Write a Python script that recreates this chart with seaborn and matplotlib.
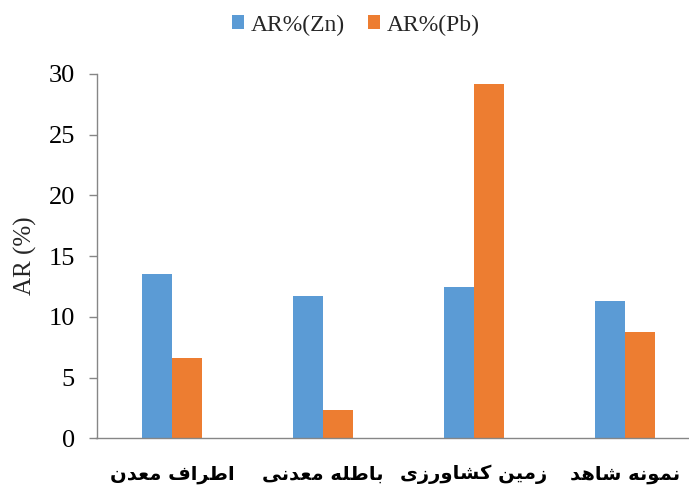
import matplotlib
matplotlib.use("Agg")
import matplotlib.pyplot as plt
import seaborn as sns
import pandas as pd

categories = ["اطراف معدن", "باطله معدنی", "زمین کشاورزی", "نمونه شاهد"]
zn_values = [13.5, 11.7, 12.45, 11.3]
pb_values = [6.6, 2.3, 29.2, 8.75]
series_names = ["AR%(Zn)", "AR%(Pb)"]
y_ticks = [0, 5, 10, 15, 20, 25, 30]
y_label = "AR (%)"

# --- minimal Arabic/Persian shaping (contextual forms + RTL order) ---
FORMS = {  # iso, fin, ini, med
    "ا": ("\uFE8D", "\uFE8E", None, None),
    "ب": ("\uFE8F", "\uFE90", "\uFE91", "\uFE92"),
    "ط": ("\uFEC1", "\uFEC2", "\uFEC3", "\uFEC4"),
    "ر": ("\uFEAD", "\uFEAE", None, None),
    "ز": ("\uFEAF", "\uFEB0", None, None),
    "د": ("\uFEA9", "\uFEAA", None, None),
    "و": ("\uFEED", "\uFEEE", None, None),
    "ف": ("\uFED1", "\uFED2", "\uFED3", "\uFED4"),
    "م": ("\uFEE1", "\uFEE2", "\uFEE3", "\uFEE4"),
    "ع": ("\uFEC9", "\uFECA", "\uFECB", "\uFECC"),
    "ن": ("\uFEE5", "\uFEE6", "\uFEE7", "\uFEE8"),
    "ل": ("\uFEDD", "\uFEDE", "\uFEDF", "\uFEE0"),
    "ه": ("\uFEE9", "\uFEEA", "\uFEEB", "\uFEEC"),
    "ش": ("\uFEB5", "\uFEB6", "\uFEB7", "\uFEB8"),
    "ی": ("\uFBFC", "\uFBFD", "\uFBFE", "\uFBFF"),
    "ک": ("\uFB8E", "\uFB8F", "\uFB90", "\uFB91"),
}


def dual(c):
    return c in FORMS and FORMS[c][2] is not None


def shape(text):
    out = []
    for i, c in enumerate(text):
        if c not in FORMS:
            out.append(c)
            continue
        prev = text[i - 1] if i > 0 else None
        nxt = text[i + 1] if i + 1 < len(text) else None
        cp = prev is not None and dual(prev)
        cn = dual(c) and nxt is not None and nxt in FORMS
        iso, fin, ini, med = FORMS[c]
        if cp and cn:
            out.append(med)
        elif cp:
            out.append(fin)
        elif cn:
            out.append(ini)
        else:
            out.append(iso)
    return "".join(out)[::-1]


shaped = [shape(c) for c in categories]

df = pd.DataFrame({
    "cat": shaped * 2,
    "series": [series_names[0]] * 4 + [series_names[1]] * 4,
    "value": zn_values + pb_values,
})

sns.set_theme(style="white")
plt.rcParams["font.family"] = ["Liberation Serif", "DejaVu Sans"]

fig = plt.figure(figsize=(6.89, 4.91), dpi=100)
ax = fig.add_axes([96.5 / 689, (491 - 438.3) / 491, 604 / 689, (438.3 - 74) / 491])

sns.barplot(data=df, x="cat", y="value", hue="series",
            palette=["#5B9BD5", "#ED7D31"], width=0.4, gap=0,
            saturation=1, linewidth=0, ax=ax, legend=True)

ax.set_xlim(-0.5, 3.5)
ax.set_ylim(0, 30)
ax.set_yticks(y_ticks)
ax.set_yticklabels([str(t) for t in y_ticks], fontsize=19)
ax.set_xlabel("")
ax.set_ylabel(y_label, fontsize=18, labelpad=8)

for s in ["top", "right"]:
    ax.spines[s].set_visible(False)
for s in ["left", "bottom"]:
    ax.spines[s].set_color("#868686")
    ax.spines[s].set_linewidth(1.0)

ax.tick_params(axis="y", which="both", left=True, length=5.5, width=1,
               color="#868686", pad=10, labelcolor="black")
ax.tick_params(axis="x", bottom=False, pad=13)
for lbl in ax.get_xticklabels():
    lbl.set_fontfamily("DejaVu Sans")
    lbl.set_fontweight("bold")
    lbl.set_fontsize(14)
    lbl.set_color("black")

handles, labels = ax.get_legend_handles_labels()
ax.legend_.remove()
fig.legend(handles, labels, loc="center", bbox_to_anchor=(356 / 689, 1 - 25 / 491),
           ncol=2, frameon=False, fontsize=17, handlelength=0.5,
           handleheight=0.55, handletextpad=0.3, columnspacing=0.95)

fig.savefig("out.png", dpi=100)
